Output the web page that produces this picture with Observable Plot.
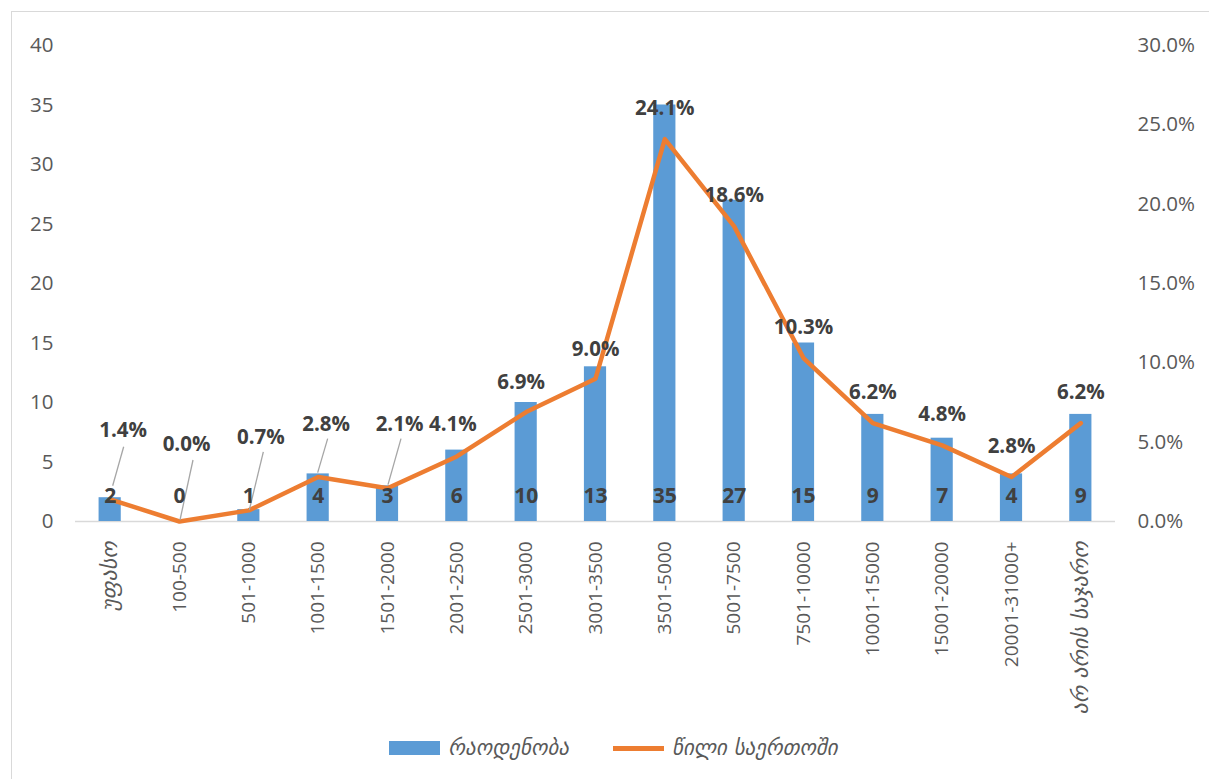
<!DOCTYPE html>
<html>
<head>
<meta charset="utf-8">
<script src="https://cdn.jsdelivr.net/npm/d3@7"></script>
<script src="https://cdn.jsdelivr.net/npm/@observablehq/plot@0.6"></script>
<style>
  html, body { margin: 0; padding: 0; background: #fff; overflow: hidden; }
  #wrap { position: relative; width: 1209px; height: 779px; }
  #frame { position: absolute; left: 11px; top: 11px; width: 1230px; height: 800px; border: 1px solid #d9d9d9; box-sizing: border-box; }
  #chart { position: absolute; left: 0; top: 0; }
  #legend { position: absolute; left: 0; top: 736px; width: 1227px; display: flex; justify-content: center; gap: 44px; align-items: center;
            font-family: "DejaVu Sans", sans-serif; font-style: italic; font-size: 21px; color: #595959; }
  .item { display: flex; align-items: center; gap: 8px; }
  .sw-bar { width: 51px; height: 14px; background: #5B9BD5; }
  .sw-line { width: 51px; height: 5px; background: #ED7D31; }
</style>
</head>
<body>
<div id="wrap">
  <div id="frame"></div>
  <div id="chart"></div>
  <div id="legend">
    <div class="item"><div class="sw-bar"></div><span>რაოდენობა</span></div>
    <div class="item"><div class="sw-line"></div><span>წილი საერთოში</span></div>
  </div>
</div>
<script>
// ---- data ----
const categories = ["უფასო","100-500","501-1000","1001-1500","1501-2000","2001-2500","2501-3000","3001-3500","3501-5000","5001-7500","7501-10000","10001-15000","15001-20000","20001-31000+","არ არის საჯარო"];
const counts = [2, 0, 1, 4, 3, 6, 10, 13, 35, 27, 15, 9, 7, 4, 9];
const shares = [1.4, 0.0, 0.7, 2.8, 2.1, 4.1, 6.9, 9.0, 24.1, 18.6, 10.3, 6.2, 4.8, 2.8, 6.2];
const countTicks = [0, 5, 10, 15, 20, 25, 30, 35, 40];
const shareTicks = [0, 5, 10, 15, 20, 25, 30];

// ---- build ----
const k = 40 / 30; // share (%) -> count axis units
const rows = categories.map((c, i) => ({i, cat: c, count: counts[i], share: shares[i]}));

// annotation placement for percentage labels (pixel offsets from the line point)
const labelOffset = {0: [13, -69], 1: [7, -77], 2: [12, -73], 3: [8, -53], 4: [12, -64], 5: [-4, -32], 6: [-5, -30], 7: [0, -29]};
const leaders = {0: [14, -52, 3, -13], 1: [14, -61, 1, -1], 2: [15, -58, 1, 0], 3: [10, -38, 0, -4], 4: [14, -49, 1, -3]};

const labelFont = "'Open Sans', 'DejaVu Sans', sans-serif";

const pctMarks = rows.map(d => {
  const [dx, dy] = labelOffset[d.i] || [0, -31];
  return Plot.text([d], {x: "i", y: r => r.share * k, text: r => r.share.toFixed(1) + "%",
    dx, dy, fontWeight: "bold", fontSize: 20.5, fill: "#404040", fontFamily: labelFont});
});

const leaderMark = (index, scales) => {
  const g = d3.create("svg:g").attr("stroke", "#a6a6a6").attr("stroke-width", 1.3);
  for (const key of Object.keys(leaders)) {
    const d = rows[+key];
    const [x1, y1, x2, y2] = leaders[key];
    const px = scales.x(d.i), py = scales.y(d.share * k);
    g.append("line").attr("x1", px + x1).attr("y1", py + y1).attr("x2", px + x2).attr("y2", py + y2);
  }
  return g.node();
};

const chart = Plot.plot({
  width: 1209,
  height: 730,
  marginLeft: 75,
  marginRight: 94,
  marginTop: 45,
  marginBottom: 209,
  x: {domain: [-0.5, categories.length - 0.5]},
  y: {domain: [0, 40]},
  style: {fontFamily: labelFont, fontSize: "20px", color: "#595959", background: "transparent"},
  marks: [
    Plot.ruleY([0], {stroke: "#d9d9d9", strokeWidth: 1.5}),
    Plot.rectY(rows, {x1: d => d.i - 0.16, x2: d => d.i + 0.16, y1: 0, y2: "count", fill: "#5B9BD5"}),
    Plot.line(rows, {x: "i", y: d => d.share * k, stroke: "#ED7D31", strokeWidth: 4.5, strokeLinejoin: "round", strokeLinecap: "round"}),
    leaderMark,
    Plot.axisY({ticks: countTicks, tickSize: 0, tickPadding: 22, label: null, fontSize: 20.5}),
    Plot.axisY({anchor: "right", ticks: shareTicks.map(v => v * k), tickFormat: v => (v / k).toFixed(1) + "%", tickSize: 0, tickPadding: 22, label: null, fontSize: 20.5}),
    Plot.axisX({ticks: d3.range(categories.length), tickFormat: i => categories[i], tickRotate: -90, tickSize: 0, tickPadding: 20, label: null, fontSize: 19}),
    Plot.text(rows, {x: "i", y: 0, text: d => String(d.count), dy: -25, fontWeight: "bold", fontSize: 21, fill: "#404040", fontFamily: labelFont}),
    ...pctMarks
  ]
});

d3.select(chart).selectAll("text").each(function() {
  if (/[\u10A0-\u10FF]/.test(this.textContent)) {
    d3.select(this).attr("font-style", "italic").attr("font-family", "'DejaVu Sans', sans-serif").attr("font-size", 22);
  }
});

document.getElementById("chart").appendChild(chart);
</script>
</body>
</html>
